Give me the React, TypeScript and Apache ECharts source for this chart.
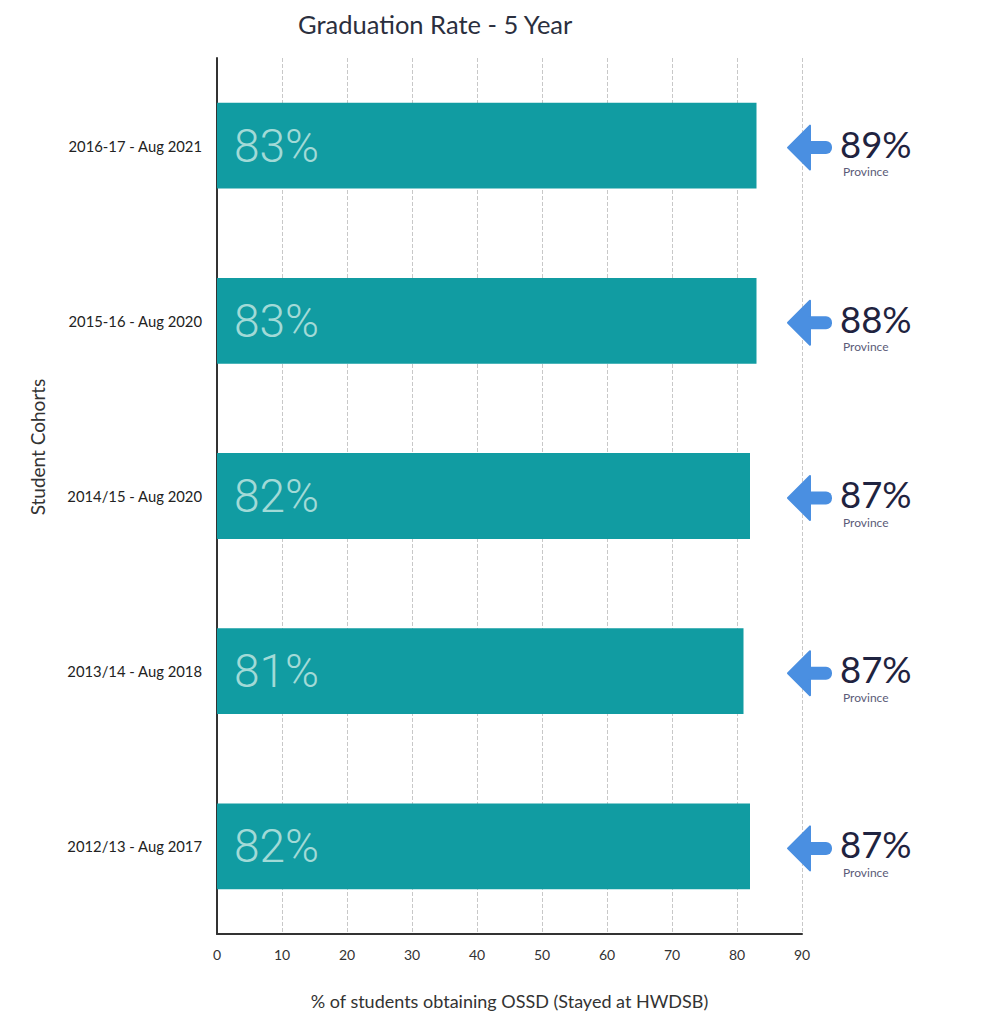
import React, { useEffect, useRef } from "react";
import * as echarts from "echarts";

const categories = [
  "2016-17 - Aug 2021",
  "2015-16 - Aug 2020",
  "2014/15 - Aug 2020",
  "2013/14 - Aug 2018",
  "2012/13 - Aug 2017",
];
const boardRates = [83, 83, 82, 81, 82];
const provinceRates = [89, 88, 87, 87, 87];
const xTicks = [0, 10, 20, 30, 40, 50, 60, 70, 80, 90];

export default function App() {
  const ref = useRef<HTMLDivElement>(null);
  useEffect(() => {
    document.body.style.margin = "0";
    const chart = echarts.init(ref.current!, null, { renderer: "svg" });
    const font = "Lato, 'Open Sans', sans-serif";
    chart.setOption({
      animation: false,
      backgroundColor: "#ffffff",
      title: {
        text: "Graduation Rate - 5 Year",
        left: 293,
        top: 6,
        textStyle: { fontFamily: font, fontSize: 25.5, fontWeight: "normal", color: "#2b2f3e" },
      },
      graphic: [
        {
          type: "text",
          x: 37,
          y: 447,
          rotation: Math.PI / 2,
          style: {
            text: "Student Cohorts",
            fontFamily: font,
            fontSize: 19,
            fill: "#333",
            textAlign: "center",
            textVerticalAlign: "middle",
          },
        },
      ],
      grid: { left: 217, right: 198, top: 58, bottom: 90, containLabel: false },
      xAxis: {
        type: "value",
        min: xTicks[0],
        max: xTicks[xTicks.length - 1],
        interval: 10,
        name: "% of students obtaining OSSD (Stayed at HWDSB)",
        nameLocation: "middle",
        nameGap: 58,
        nameTextStyle: { fontFamily: font, fontSize: 18, color: "#333" },
        axisLine: { show: true, lineStyle: { color: "#333", width: 2 } },
        axisTick: { show: false },
        axisLabel: { fontFamily: font, fontSize: 14, color: "#333", margin: 13 },
        splitLine: { show: true, lineStyle: { type: "dashed", color: "#c8c8c8", width: 1 } },
      },
      yAxis: {
        type: "category",
        data: categories,
        inverse: true,
        axisLine: { show: true, lineStyle: { color: "#333", width: 2 } },
        axisTick: { show: false },
        axisLabel: { fontFamily: font, fontSize: 14.8, color: "#222", margin: 15 },
        splitLine: { show: false },
      },
      series: [
        {
          type: "bar",
          data: boardRates,
          barWidth: "49%",
          itemStyle: { color: "#119ca2" },
          label: {
            show: true,
            position: "insideLeft",
            distance: 17,
            formatter: (p: any) => p.value + "%",
            fontFamily: "Roboto, sans-serif",
            fontSize: 46,
            fontWeight: 300,
            color: "#a2dad7",
          },
        },
        {
          type: "custom",
          clip: false,
          data: provinceRates.map((v, i) => [xTicks[xTicks.length - 1], i, v]),
          encode: { x: 0, y: 1 },
          renderItem: (params: any, api: any) => {
            const pt = api.coord([api.value(0), api.value(1)]);
            const x0 = pt[0] - 14;
            const yc = pt[1] + 2;
            const val = api.value(2);
            return {
              type: "group",
              children: [
                {
                  type: "polygon",
                  shape: { points: [[x0, yc], [x0 + 22, yc - 22], [x0 + 22, yc + 22]] },
                  style: { fill: "#4a8fe1", lineJoin: "round", stroke: "#4a8fe1", lineWidth: 2 },
                },
                {
                  type: "rect",
                  shape: { x: x0 + 20, y: yc - 6.5, width: 24, height: 13, r: [0, 6, 6, 0] },
                  style: { fill: "#4a8fe1" },
                },
                {
                  type: "text",
                  x: x0 + 52,
                  y: pt[1] - 2,
                  style: {
                    text: val + "%",
                    fontFamily: font,
                    fontSize: 36.5,
                    fill: "#1f2340",
                    textAlign: "left",
                    textVerticalAlign: "middle",
                  },
                },
                {
                  type: "text",
                  x: x0 + 55,
                  y: pt[1] + 26,
                  style: {
                    text: "Province",
                    fontFamily: font,
                    fontSize: 12,
                    fill: "#5b5b78",
                    textAlign: "left",
                    textVerticalAlign: "middle",
                  },
                },
              ],
            };
          },
        },
      ],
    });
    return () => chart.dispose();
  }, []);
  return (
    <div
      ref={ref}
      style={{ position: "absolute", left: 0, top: 0, width: 1000, height: 1024 }}
    />
  );
}
